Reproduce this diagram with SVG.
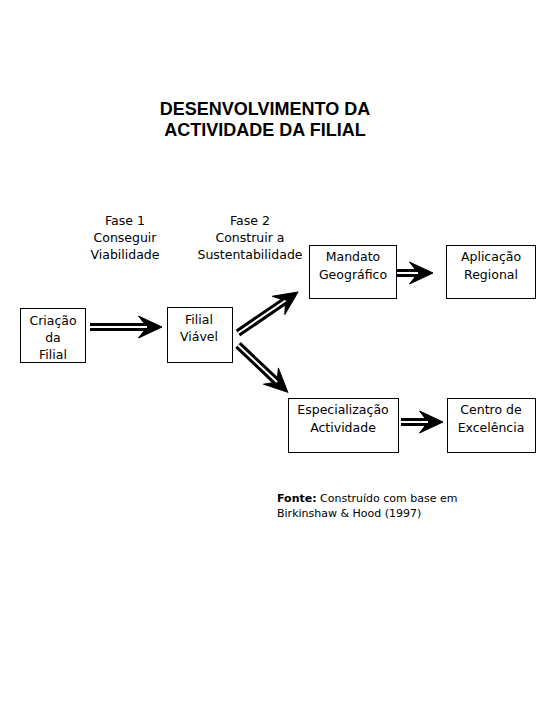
<svg xmlns="http://www.w3.org/2000/svg" width="540" height="720" viewBox="0 0 540 720">
<style>
.title{font-family:"Liberation Sans",Arial,sans-serif;font-weight:bold;font-size:18px;text-anchor:middle;fill:#000}
.t{font-family:"DejaVu Sans","Liberation Sans",sans-serif;font-size:12.5px;text-anchor:middle;fill:#000}
.src{font-family:"DejaVu Sans","Liberation Sans",sans-serif;font-size:11px;fill:#000}
.box{fill:#fff;stroke:#000;stroke-width:1}
.shaft{stroke:#000;stroke-width:8;fill:none}
.gap{stroke:#fff;stroke-width:2;fill:none}
</style>
<defs>
<marker id="ah" markerUnits="userSpaceOnUse" markerWidth="26" markerHeight="24" refX="9" refY="11.5" orient="auto" overflow="visible">
<path d="M0.5,0.5 L24,11.5 L0.5,22.5 L9,11.5 Z" fill="#000" stroke="#000" stroke-width="1" stroke-linejoin="round"/>
</marker>
</defs>
<rect width="540" height="720" fill="#fff"/>
<g id="title">
<text class="title" x="265" y="115">DESENVOLVIMENTO DA</text>
<text class="title" x="265" y="136">ACTIVIDADE DA FILIAL</text>
</g>
<g id="fase1">
<text class="t" x="125" y="225">Fase 1</text>
<text class="t" x="125" y="242">Conseguir</text>
<text class="t" x="125" y="259">Viabilidade</text>
</g>
<g id="fase2">
<text class="t" x="250" y="225">Fase 2</text>
<text class="t" x="250" y="242">Construir a</text>
<text class="t" x="250" y="259">Sustentabilidade</text>
</g>
<g id="criacao">
<rect class="box" x="20.5" y="308.5" width="65" height="54"/>
<text class="t" x="53" y="325">Criação</text>
<text class="t" x="53" y="342">da</text>
<text class="t" x="53" y="359">Filial</text>
</g>
<g id="filial">
<rect class="box" x="167.5" y="307.5" width="65" height="55"/>
<text class="t" x="199" y="324">Filial</text>
<text class="t" x="199" y="341">Viável</text>
</g>
<g id="mandato">
<rect class="box" x="309.5" y="245.5" width="87" height="53"/>
<text class="t" x="353" y="261">Mandato</text>
<text class="t" x="353" y="279">Geográfico</text>
</g>
<g id="aplicacao">
<rect class="box" x="446.5" y="245.5" width="89" height="53"/>
<text class="t" x="491" y="261">Aplicação</text>
<text class="t" x="491" y="279">Regional</text>
</g>
<g id="especializacao">
<rect class="box" x="288.5" y="398.5" width="110" height="54"/>
<text class="t" x="343" y="414">Especialização</text>
<text class="t" x="343" y="432">Actividade</text>
</g>
<g id="centro">
<rect class="box" x="447.5" y="398.5" width="88" height="54"/>
<text class="t" x="491" y="414">Centro de</text>
<text class="t" x="491" y="432">Excelência</text>
</g>
<g id="connectors">
<path class="shaft" d="M90,327 L147,327" marker-end="url(#ah)"/>
<path class="gap" d="M90,327 L147,327"/>
<path class="shaft" d="M238,333 L285.6,300.5" marker-end="url(#ah)"/>
<path class="gap" d="M238,333 L285.6,300.5"/>
<path class="shaft" d="M238,345 L277,382" marker-end="url(#ah)"/>
<path class="gap" d="M238,345 L277,382"/>
<path class="shaft" d="M397,273 L418,273" marker-end="url(#ah)"/>
<path class="gap" d="M397,273 L418,273"/>
<path class="shaft" d="M401,422 L428,422" marker-end="url(#ah)"/>
<path class="gap" d="M401,422 L428,422"/>
</g>
<g id="source">
<text class="src" x="277" y="502"><tspan font-weight="bold">Fonte:</tspan> Construído com base em</text>
<text class="src" x="277" y="517">Birkinshaw &amp; Hood (1997)</text>
</g>
</svg>
